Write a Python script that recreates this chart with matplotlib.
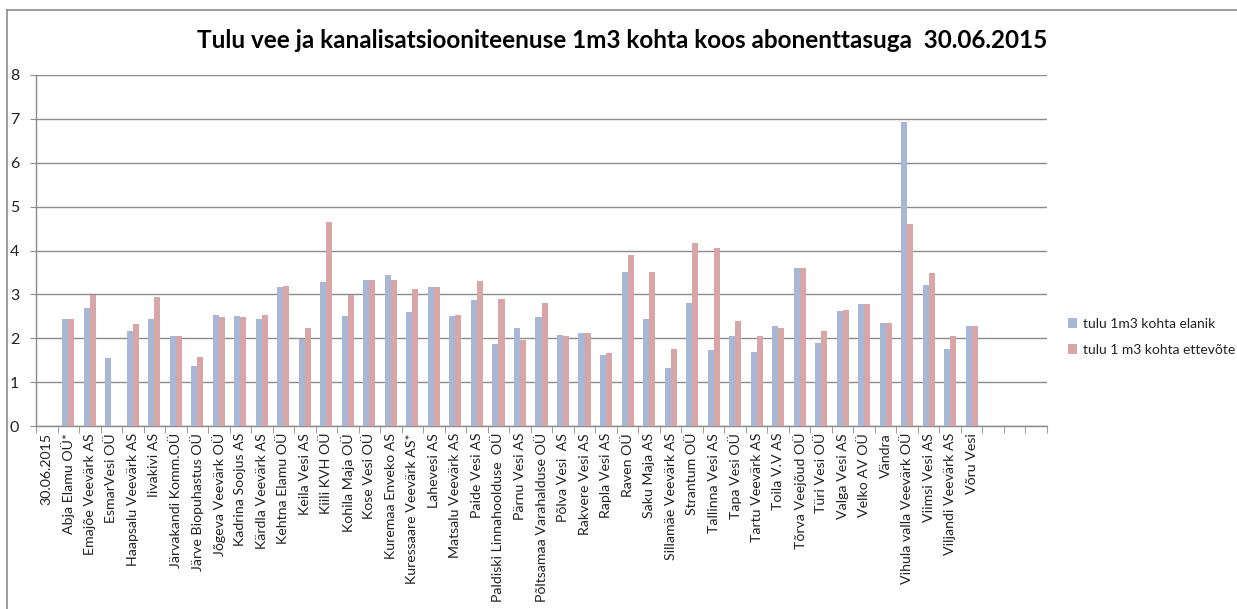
import matplotlib
matplotlib.use("Agg")
import matplotlib.pyplot as plt
from matplotlib.lines import Line2D
from matplotlib.patches import Patch
import numpy as np

plt.rcParams['font.family'] = ['Lato', 'DejaVu Sans']

categories = [
    "30.06.2015", "Abja Elamu OÜ*", "Emajõe Veevärk AS", "EsmarVesi OÜ",
    "Haapsalu Veevärk AS", "Iivakivi AS", "Järvakandi Komm.OÜ",
    "Järve Biopuhastus OÜ", "Jõgeva Veevärk OÜ", "Kadrina Soojus AS",
    "Kärdla Veevärk AS", "Kehtna Elamu OÜ", "Keila Vesi AS", "Kiili KVH OÜ",
    "Kohila Maja OÜ", "Kose Vesi OÜ", "Kuremaa Enveko AS",
    "Kuressaare Veevärk AS*", "Lahevesi AS", "Matsalu Veevärk AS",
    "Paide Vesi AS", "Paldiski Linnahoolduse  OÜ", "Pärnu Vesi AS",
    "Põltsamaa Varahalduse OÜ", "Põlva Vesi  AS", "Rakvere Vesi AS",
    "Rapla Vesi AS", "Raven OÜ", "Saku Maja AS", "Sillamäe Veevärk AS",
    "Strantum OÜ", "Tallinna Vesi AS", "Tapa Vesi OÜ", "Tartu Veevärk AS",
    "Toila V.V AS", "Tõrva Veejõud OÜ", "Türi Vesi OÜ", "Valga Vesi AS",
    "Velko AV OÜ", "Vändra", "Vihula valla Veevärk OÜ", "Viimsi Vesi AS",
    "Viljandi Veevärk AS", "Võru Vesi", "", "", "",
]

elanik = [
    0, 2.45, 2.70, 1.54, 2.17, 2.45, 2.06, 1.37, 2.52, 2.50, 2.45, 3.16,
    1.99, 3.29, 2.50, 3.32, 3.45, 2.59, 3.16, 2.50, 2.87, 1.86, 2.24, 2.49,
    2.08, 2.12, 1.62, 3.52, 2.45, 1.32, 2.80, 1.73, 2.06, 1.68, 2.27, 3.60,
    1.89, 2.62, 2.78, 2.34, 6.92, 3.22, 1.76, 2.27, 0, 0, 0,
]

ettevote = [
    0, 2.45, 2.98, 0, 2.32, 2.93, 2.06, 1.58, 2.49, 2.49, 2.52, 3.20,
    2.24, 4.64, 2.98, 3.32, 3.32, 3.13, 3.16, 2.52, 3.31, 2.89, 1.95, 2.80,
    2.06, 2.12, 1.66, 3.90, 3.50, 1.75, 4.17, 4.05, 2.40, 2.05, 2.24, 3.60,
    2.17, 2.64, 2.78, 2.34, 4.60, 3.48, 2.05, 2.27, 0, 0, 0,
]

series_names = ["tulu 1m3 kohta elanik", "tulu 1 m3 kohta ettevõte"]
title = "Tulu vee ja kanalisatsiooniteenuse 1m3 kohta koos abonenttasuga  30.06.2015"

blue = "#A7B7D5"
red = "#D9A6A8"
grid_c = "#8C8C8C"
text_c = "#222222"

W, H = 1237, 609
fig = plt.figure(figsize=(W / 100, H / 100), dpi=100)
ax = fig.add_axes([36 / W, 1 - 426 / H, (1047 - 36) / W, (426 - 75) / H])

x = np.arange(len(categories))
bw = 0.28
ax.bar(x - bw / 2, elanik, width=bw, color=blue, label=series_names[0], zorder=3)
ax.bar(x + bw / 2, ettevote, width=bw, color=red, label=series_names[1], zorder=3)

ax.set_xlim(-0.5, len(categories) - 0.5)
ax.set_ylim(0, 8)
ax.set_yticks(range(0, 9))
ax.yaxis.grid(True, color=grid_c, linewidth=1.0, zorder=0)
ax.set_axisbelow(True)

ax.set_xticks(x)
ax.set_xticklabels(categories, rotation=90, fontsize=10.2, color=text_c)
ax.set_xticks(np.arange(-0.5, len(categories)), minor=True)
ax.tick_params(axis='x', which='major', length=0, pad=5)
ax.tick_params(axis='x', which='minor', length=5, color=grid_c, direction='out')
ax.tick_params(axis='y', length=4, color=grid_c, labelsize=11.5, labelcolor=text_c, pad=8)

for s in ['top', 'right']:
    ax.spines[s].set_visible(False)
for s in ['left', 'bottom']:
    ax.spines[s].set_color(grid_c)
    ax.spines[s].set_linewidth(1.0)

fig.text(622 / W, 1 - 40 / H, title, ha='center', va='center',
         fontsize=17.5, fontweight='bold', color='black')

handles = [Patch(facecolor=blue, edgecolor='none'), Patch(facecolor=red, edgecolor='none')]
fig.legend(handles, series_names, loc='center left',
           bbox_to_anchor=(1055 / W, 1 - 337 / H), frameon=False,
           fontsize=10, handlelength=0.7, handleheight=0.7, handletextpad=0.4,
           labelspacing=1.0, labelcolor=text_c)

# chart border (top and left visible)
fig.add_artist(Line2D([7 / W, 1], [1 - 10 / H, 1 - 10 / H], color="#8C8C8C", linewidth=1.2))
fig.add_artist(Line2D([7 / W, 7 / W], [0, 1 - 10 / H], color="#8C8C8C", linewidth=1.2))

fig.savefig("out.png", dpi=100)
